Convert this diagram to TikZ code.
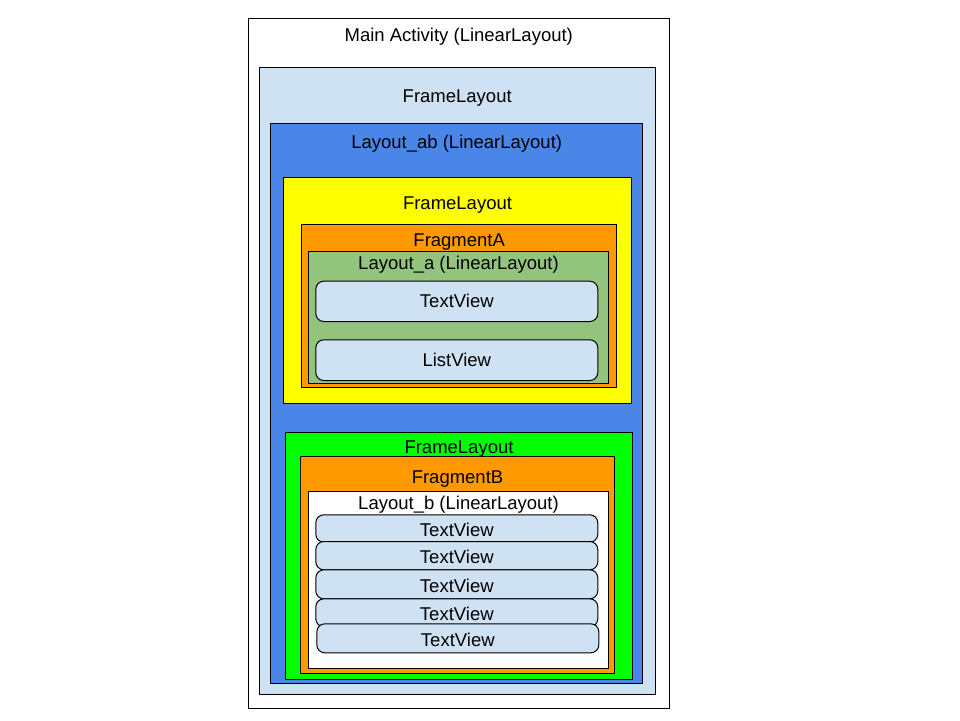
\documentclass[tikz,border=0pt]{standalone}
\usepackage{fontspec}
\setmainfont{Liberation Sans}
\definecolor{paleblue}{HTML}{CFE2F3}
\definecolor{cornflower}{HTML}{4A86E8}
\definecolor{fragorange}{HTML}{FF9900}
\definecolor{sagegreen}{HTML}{93C47D}
\definecolor{limegreen}{HTML}{00FF00}
\definecolor{pureyellow}{HTML}{FFFF00}

\tikzset{
  layoutbox/.style={draw=black, line width=1pt},
  viewbox/.style={draw=black, line width=1pt, fill=paleblue, rounded corners=8pt,
    minimum width=282pt, anchor=north west, inner sep=0pt,
    font=\fontsize{18.5}{21}\selectfont},
  boxtitle/.style={anchor=base, inner sep=0pt, font=\fontsize{18.5}{21}\selectfont},
}

\begin{document}
\begin{tikzpicture}[x=1pt, y=-1pt]
  \useasboundingbox (0,0) rectangle (960,720);

  % nested layouts
  \path[layoutbox, fill=white]      (248.3,18.3)  rectangle (669.3,708.3);
  \path[layoutbox, fill=paleblue]   (259.3,67.3)  rectangle (655,694.3);
  \path[layoutbox, fill=cornflower] (270.7,123.3) rectangle (642.7,683.3);
  \path[layoutbox, fill=pureyellow] (283.3,177.3) rectangle (631.7,403.3);
  \path[layoutbox, fill=fragorange] (301.7,224.3) rectangle (616.7,387.3);
  \path[layoutbox, fill=sagegreen]  (308.3,251.7) rectangle (608.7,383.3);
  \path[layoutbox, fill=limegreen]  (285.3,432.3) rectangle (632.7,679.3);
  \path[layoutbox, fill=fragorange] (300.3,456.7) rectangle (614.7,673.3);
  \path[layoutbox, fill=white]      (308.3,491.7) rectangle (608.7,668.3);

  \node[boxtitle] (main) at (458.8,41.5) {Main Activity (LinearLayout)};
  \node[boxtitle] (frame) at (457.2,102.5) {FrameLayout};
  \node[boxtitle] (layoutab) at (456.7,148.2) {Layout\_ab (LinearLayout)};
  \node[boxtitle] (framea) at (457.5,209.2) {FrameLayout};
  \node[boxtitle] (fragmenta) at (459.2,246.5) {FragmentA};
  \node[boxtitle] (layouta) at (458.5,269.8) {Layout\_a (LinearLayout)};
  \node[boxtitle] (frameb) at (459,453.2) {FrameLayout};
  \node[boxtitle] (fragmentb) at (457.5,483.8) {FragmentB};
  \node[boxtitle] (layoutb) at (458.5,509.8) {Layout\_b (LinearLayout)};

  % views
  \node[viewbox, minimum height=40.3pt] (textviewa) at (315.3,280.7) {TextView};
  \node[viewbox, minimum height=40.7pt] (listviewa) at (315.3,339.3) {ListView};
  \foreach \vtop/\vheight/\vleft [count=\i] in {514.3/27.4/315.3, 541/28.3/315.3, 569.3/29/315.3, 598.3/28/315.3, 623.3/29/316.3}
    \node[viewbox, minimum height=\vheight pt, text height=16pt, text depth=0pt] (textviewb\i) at (\vleft,\vtop) {TextView};
\end{tikzpicture}
\end{document}
